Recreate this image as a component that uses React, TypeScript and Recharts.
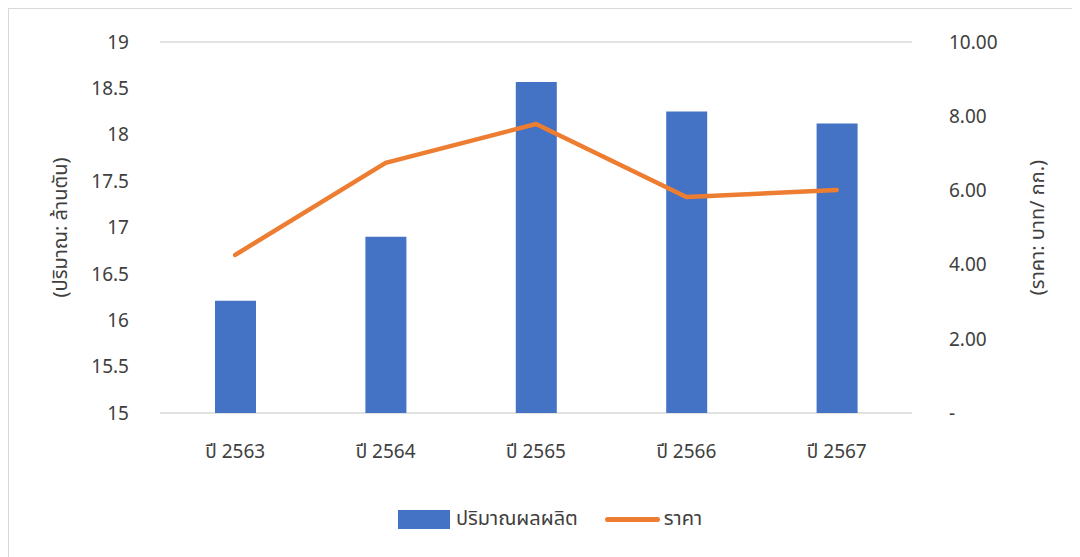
import React from 'react';
import { ComposedChart, Bar, Line, XAxis, YAxis, CartesianGrid, Legend, Label } from 'recharts';

const categories = ['ปี 2563', 'ปี 2564', 'ปี 2565', 'ปี 2566', 'ปี 2567'];
const production = [16.21, 16.9, 18.57, 18.25, 18.12];
const price = [4.26, 6.74, 7.79, 5.82, 6.01];
const leftTicks = [15, 15.5, 16, 16.5, 17, 17.5, 18, 18.5, 19];
const rightTicks = [0, 2, 4, 6, 8, 10];

const data = categories.map((c, i) => ({ name: c, production: production[i], price: price[i] }));

const FONT = '"Noto Sans", "Noto Sans Thai", "Leelawadee UI", Tahoma, sans-serif';
const TEXT = '#404040';
const FS = 19;

const renderLegend = () => (
  <div style={{ display: 'flex', justifyContent: 'center', alignItems: 'center', height: 30, paddingLeft: 14, fontFamily: FONT, fontSize: 20, color: TEXT }}>
    <span style={{ display: 'inline-block', width: 52, height: 19, background: '#4472C4', marginRight: 6 }} />
    <span style={{ marginRight: 27 }}>ปริมาณผลผลิต</span>
    <span style={{ display: 'inline-block', width: 55, height: 5, borderRadius: 3, background: '#ED7D31', marginRight: 4 }} />
    <span>ราคา</span>
  </div>
);

const leftLabel = (props: any) => {
  const vb = props.viewBox;
  const cx = 50;
  const cy = vb.y + vb.height / 2;
  return (
    <text x={cx} y={cy} transform={`rotate(-90 ${cx} ${cy})`} textAnchor="middle" dominantBaseline="central" fill={TEXT} fontSize={20} fontFamily={FONT}>
      (ปริมาณ: ล้านตัน)
    </text>
  );
};

const rightLabel = (props: any) => {
  const vb = props.viewBox;
  const cx = 1027;
  const cy = vb.y + vb.height / 2;
  return (
    <text x={cx} y={cy} transform={`rotate(-90 ${cx} ${cy})`} textAnchor="middle" dominantBaseline="central" fill={TEXT} fontSize={20} fontFamily={FONT}>
      (ราคา: บาท/ กก.)
    </text>
  );
};

export default function App() {
  return (
    <div style={{ width: 1068, height: 548, border: '1px solid #d9d9d9', background: '#fff' }}>
      <ComposedChart width={1068} height={548} data={data} margin={{ top: 33, right: 0, bottom: 23, left: 0 }}>
        <CartesianGrid vertical={false} stroke="#d9d9d9" strokeWidth={1.3} />
        <XAxis
          dataKey="name"
          axisLine={false}
          tickLine={false}
          tickSize={0}
          tickMargin={32}
          height={91}
          tick={{ fill: TEXT, fontSize: FS, fontFamily: FONT }}
        />
        <YAxis
          yAxisId="left"
          orientation="left"
          domain={[15, 19]}
          ticks={leftTicks}
          interval={0}
          width={151}
          axisLine={false}
          tickLine={false}
          tickSize={0}
          tickMargin={31}
          tick={{ fill: TEXT, fontSize: FS, fontFamily: FONT }}
        >
          <Label content={leftLabel} />
        </YAxis>
        <YAxis
          yAxisId="right"
          orientation="right"
          domain={[0, 10]}
          ticks={rightTicks}
          interval={0}
          width={165}
          axisLine={false}
          tickLine={false}
          tickSize={0}
          tickMargin={37}
          tickFormatter={(v: number) => (v === 0 ? '-' : v.toFixed(2))}
          tick={{ fill: TEXT, fontSize: FS, fontFamily: FONT, textAnchor: 'start' }}
        >
          <Label content={rightLabel} />
        </YAxis>
        <Bar yAxisId="left" dataKey="production" fill="#4472C4" barSize={41} isAnimationActive={false} />
        <Line yAxisId="right" dataKey="price" stroke="#ED7D31" strokeWidth={4.5} strokeLinecap="round" strokeLinejoin="round" dot={false} activeDot={false} isAnimationActive={false} />
        <Legend verticalAlign="bottom" content={renderLegend} />
      </ComposedChart>
    </div>
  );
}
